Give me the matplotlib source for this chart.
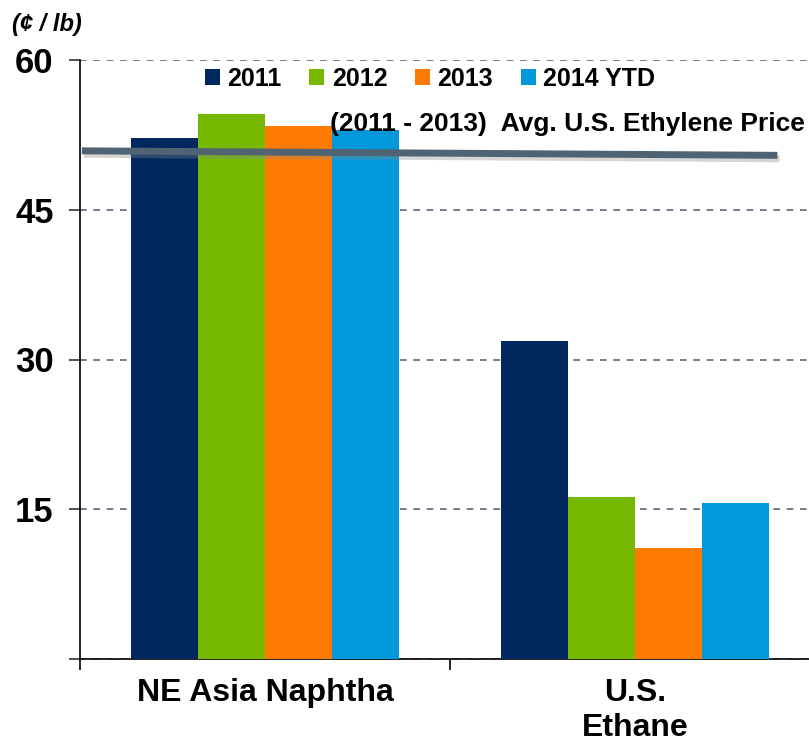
import matplotlib
matplotlib.use("Agg")
import matplotlib.pyplot as plt
import matplotlib.patheffects as pe
import numpy as np

plt.rcParams['font.family'] = ['Liberation Sans', 'DejaVu Sans']
plt.rcParams['font.weight'] = 'bold'

# data (cents per lb)
feedstocks = ['NE Asia Naphtha', 'U.S.\nEthane']
years = ['2011', '2012', '2013', '2014 YTD']
price_2011 = [52.2, 31.9]
price_2012 = [54.6, 16.2]
price_2013 = [53.4, 11.1]
price_2014 = [53.0, 15.6]
# avg ethylene price line (2011-2013), drawn slightly tilted as in the slide
ethylene_x = [-0.495, 1.385]
ethylene_avg = [50.9, 50.45]

colors = ['#00285f', '#76b900', '#ff7b00', '#0098da']
series = [price_2011, price_2012, price_2013, price_2014]

fig = plt.figure(figsize=(8.09, 7.42), dpi=100)
ax = fig.add_axes([80/809, 1 - 659/742, 740/809, (659 - 60)/742])

x = np.arange(len(feedstocks))
w = 0.181
for i, (vals, c, lab) in enumerate(zip(series, colors, years)):
    ax.bar(x + (i - 1.5) * w, vals, width=w, color=c, label=lab, zorder=3)

line, = ax.plot(ethylene_x, ethylene_avg, color='#4f6372', lw=5, zorder=4,
                solid_capstyle='butt')
line.set_path_effects([pe.SimpleLineShadow(offset=(1.5, -2.5), shadow_color='#888888', alpha=0.35),
                       pe.Normal()])

ax.set_xlim(-0.5, 1.5)
ax.set_ylim(0, 60)
ax.set_yticks([0, 15, 30, 45, 60])
ax.set_yticklabels(['', '15', '30', '45', '60'], fontsize=25, fontweight='bold')
ax.yaxis.grid(True, linestyle=(0, (4, 4)), color='#56677a', lw=1.2, zorder=0)
ax.set_axisbelow(True)

ax.set_xticks([-0.5, 0.5, 1.5])
ax.set_xticklabels([])
ax.set_xticks(x, minor=True)
ax.set_xticklabels(feedstocks, minor=True, fontsize=23, fontweight='bold')
ax.tick_params(axis='x', which='minor', length=0, pad=14)
ax.tick_params(axis='x', which='major', length=8, width=1.2, direction='out')
ax.tick_params(axis='y', length=8, width=1.2, colors='#333333', labelcolor='black', pad=11)

for s in ['top', 'right']:
    ax.spines[s].set_visible(False)
ax.spines['left'].set_linewidth(1.2)
ax.spines['bottom'].set_linewidth(1.2)

fig.legend(loc='center', bbox_to_anchor=(430/809, 1 - 79/742), ncol=4, frameon=False,
           prop={'size': 18, 'weight': 'bold'}, handlelength=0.6, handleheight=0.6,
           handletextpad=0.3, columnspacing=1.1)

fig.text(805/809, 1 - 124/742, '(2011 - 2013)  Avg. U.S. Ethylene Price', ha='right', va='center',
         fontsize=19, fontweight='bold')
fig.text(12/809, 1 - 25/742, '(¢ / lb)', ha='left', va='center', fontsize=17,
         fontweight='bold', fontstyle='italic')

fig.savefig('out.png', dpi=100)
